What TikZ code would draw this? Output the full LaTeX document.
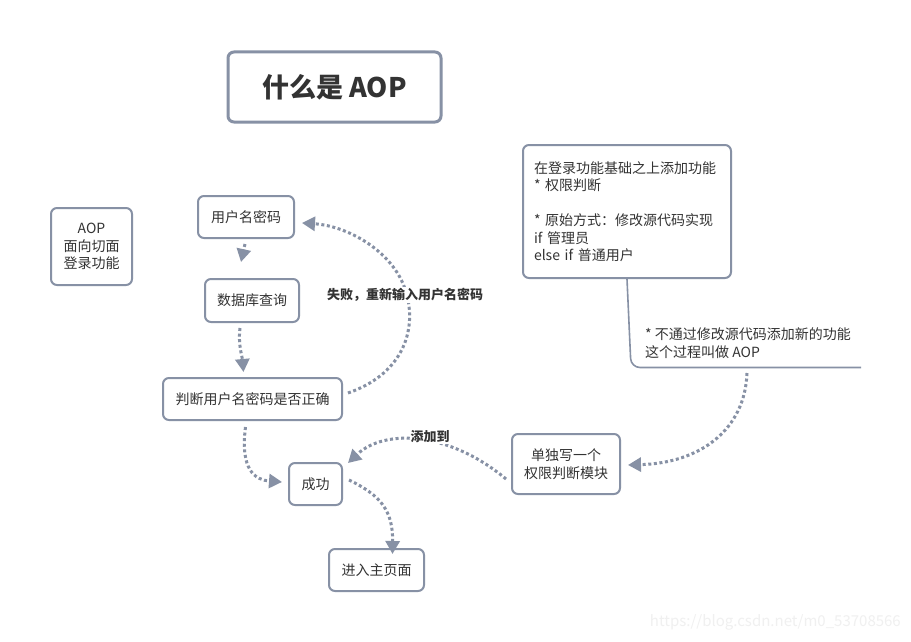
\documentclass[tikz,border=0pt]{standalone}
\usepackage{fontspec}
\setmainfont{Noto Sans CJK SC}
\usetikzlibrary{arrows.meta}
\definecolor{linec}{RGB}{135,145,165}
\definecolor{textc}{RGB}{51,51,51}
\definecolor{markc}{RGB}{240,240,240}
\tikzset{
  box/.style={draw=linec, line width=2pt, rounded corners=6pt, fill=white,
    text=textc, align=center, inner sep=0pt,
    font=\fontsize{14pt}{17.5pt}\selectfont},
  flow/.style={draw=linec, line width=3pt, dash pattern=on 3pt off 2.6pt,
    -{Triangle[length=13pt,width=14pt]}},
  tag/.style={fill=white, text=textc, inner sep=1pt,
    font=\fontsize{13pt}{16pt}\selectfont\bfseries},
}
\begin{document}
\begin{tikzpicture}[x=1pt,y=-1pt]
\useasboundingbox[fill=white] (0,0) rectangle (911,642);
% Title
\node[box, line width=3pt, minimum width=213pt, minimum height=70pt,
  font=\fontsize{27pt}{32pt}\selectfont\bfseries] (title) at (334.5,87) {什么是 AOP};
% Side note
\node[box, minimum width=81pt, minimum height=77pt] (aop) at (91.5,246.5) {AOP\\面向切面\\登录功能};
% Login flow
\node[box, minimum width=96pt, minimum height=42pt] (user) at (246,217) {用户名密码};
\node[box, minimum width=94pt, minimum height=43pt] (query) at (252,300.5) {数据库查询};
\node[box, minimum width=179pt, minimum height=42pt] (check) at (252.5,399) {判断用户名密码是否正确};
\node[box, minimum width=53pt, minimum height=42pt] (success) at (315.5,484) {成功};
\node[box, minimum width=95pt, minimum height=42pt] (home) at (376.5,570) {进入主页面};
% Extra module
\node[box, minimum width=108pt, minimum height=60pt] (module) at (566,464) {单独写一个\\权限判断模块};
\node[box, minimum width=208pt, minimum height=133pt, text width=186pt, align=left] (idea) at (627,211.5)
  {在登录功能基础之上添加功能\\{}* 权限判断\\[17.5pt]{}* 原始方式：修改源代码实现\\if 管理员\\else if 普通用户};
% Annotation under the idea box
\node[text=textc, anchor=west, align=left, inner sep=0pt,
  font=\fontsize{14pt}{18pt}\selectfont] (note) at (645,343)
  {* 不通过修改源代码添加新的功能\\这个过程叫做 AOP};
\draw[linec, line width=1.6pt, rounded corners=9pt] (idea.south) -- (631,367.5) -- (861,367.5);
\coordinate (noteend) at (747,373);
% Flow arrows
\draw[flow] ([xshift=-1pt,yshift=-5pt]user.south) -- ([xshift=-11pt,yshift=16pt]query.north);
\draw[flow] ([xshift=-12pt,yshift=-5pt]query.south) .. controls (238,345) and (242,355) .. ([xshift=-9pt,yshift=5pt]check.north);
\draw[flow] ([xshift=5pt,yshift=-16pt]check.north east) .. controls (400,375) and (415,335) .. (408,300)
  .. controls (400,255) and (350,226) .. ([xshift=7pt,yshift=-6pt]user.east);
\node[tag] (fail) at (405,295) {失败，重新输入用户名密码};
\draw[flow] ([xshift=-7pt,yshift=-6pt]check.south) .. controls (240,470) and (255,480) .. ([xshift=-6pt,yshift=2pt]success.west);
\draw[flow] ([xshift=6pt,yshift=4pt]success.east) .. controls (380,495) and (393,510) .. ([xshift=16pt,yshift=-6pt]home.north);
% Module arrows
\draw[flow] ([xshift=-5pt,yshift=-15pt]module.west) .. controls (450,432) and (385,428) .. ([xshift=5pt,yshift=-1pt]success.north east);
\node[tag] (addto) at (430,437) {添加到};
\draw[flow] (noteend) .. controls (745,430) and (700,463) .. ([xshift=7pt,yshift=-1pt]module.east);
% Watermark
\node[text=markc, anchor=east, inner sep=0pt, font=\fontsize{15pt}{18pt}\selectfont] (mark) at (901,622) {https://blog.csdn.net/m0\_53708566};
\end{tikzpicture}
\end{document}
